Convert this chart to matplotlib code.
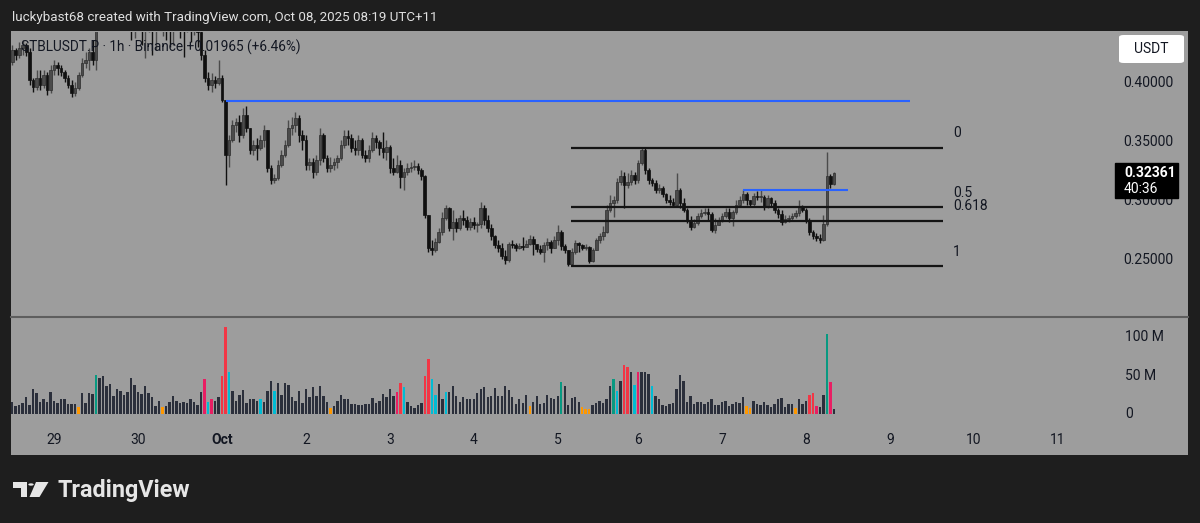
"""Recreate a TradingView STBLUSDT.P 1h screenshot (candles, fib levels, volume)."""

import os
import tempfile
from pathlib import Path

os.environ.setdefault("MPLCONFIGDIR", str(Path(tempfile.gettempdir()) / "matplotlib-cache"))

import matplotlib

matplotlib.use("Agg")
import matplotlib.pyplot as plt
import matplotlib.transforms as mtransforms
import numpy as np
from matplotlib.lines import Line2D
from matplotlib.patches import Circle, FancyBboxPatch, Polygon, Rectangle

W, H = 1200, 523

# hourly bars, index = hours since Oct 1 00:00 (UTC+11)
FIRST_HOUR = -59
FIRST_OPEN = 0.4178
CLOSE = [
    0.4280, 0.4237, 0.4297, 0.4322, 0.4263, 0.4025, 0.3966, 0.4042, 0.3983, 0.4068,
    0.3941, 0.4110, 0.4153, 0.4127, 0.4093, 0.4042, 0.3983, 0.3915, 0.3958, 0.4068,
    0.4169, 0.4195, 0.4263, 0.4195, 0.4491, 0.4576, 0.4661, 0.4703, 0.4635, 0.4678,
    0.4601, 0.4618, 0.4551, 0.4517, 0.4466, 0.4491, 0.4534, 0.4449, 0.4466, 0.4517,
    0.4449, 0.4491, 0.4534, 0.4551, 0.4500, 0.4449, 0.4491, 0.4534, 0.4483, 0.4466,
    0.4517, 0.4449, 0.4483, 0.4432, 0.4237, 0.4042, 0.3983, 0.4025, 0.4000, 0.4042,
    0.3856, 0.3390, 0.3517, 0.3644, 0.3670, 0.3560, 0.3729, 0.3619, 0.3433, 0.3475,
    0.3450, 0.3517, 0.3602, 0.3280, 0.3178, 0.3195, 0.3305, 0.3390, 0.3475, 0.3619,
    0.3644, 0.3704, 0.3560, 0.3517, 0.3305, 0.3331, 0.3246, 0.3348, 0.3560, 0.3365,
    0.3280, 0.3305, 0.3331, 0.3365, 0.3475, 0.3551, 0.3534, 0.3450, 0.3433, 0.3517,
    0.3390, 0.3365, 0.3433, 0.3534, 0.3500, 0.3450, 0.3416, 0.3458, 0.3280, 0.3246,
    0.3305, 0.3204, 0.3246, 0.3280, 0.3288, 0.3297, 0.3263, 0.3212, 0.2882, 0.2602,
    0.2586, 0.2653, 0.2738, 0.2857, 0.2941, 0.2772, 0.2823, 0.2772, 0.2857, 0.2840,
    0.2780, 0.2823, 0.2797, 0.2806, 0.2941, 0.2840, 0.2772, 0.2704, 0.2628, 0.2603,
    0.2535, 0.2501, 0.2636, 0.2628, 0.2603,
    0.2619, 0.2611, 0.2636, 0.2679,
    0.2636, 0.2594, 0.2569, 0.2628, 0.2653, 0.2603, 0.2670, 0.2738, 0.2619, 0.2586,
    0.2467, 0.2569, 0.2645, 0.2628, 0.2603, 0.2611, 0.2492, 0.2586, 0.2670, 0.2704,
    0.2738, 0.2924, 0.2984, 0.3009, 0.3161, 0.3212, 0.3136, 0.3161, 0.3221, 0.3178,
    0.3322, 0.3433, 0.3263, 0.3178, 0.3153, 0.3094, 0.3110, 0.3060, 0.3009, 0.2992,
    0.2967, 0.3094, 0.2984, 0.2924, 0.2840, 0.2780, 0.2814, 0.2874, 0.2899, 0.2907,
    0.2890, 0.2755, 0.2797, 0.2840, 0.2874, 0.2907, 0.2857, 0.2907, 0.2967, 0.3009,
    0.3060, 0.3009, 0.2975, 0.3043, 0.3034, 0.3034, 0.2958, 0.3026, 0.2984, 0.2924,
    0.2890, 0.2823, 0.2848, 0.2857, 0.2874, 0.2899, 0.2950, 0.2924, 0.2840, 0.2738,
    0.2704, 0.2687, 0.2670, 0.2806, 0.3212, 0.3144, 0.32361,
]
HIGH = [
    0.4322, 0.4297, 0.4347, 0.4364, 0.4339, 0.4297, 0.4042, 0.4110, 0.4110, 0.4110,
    0.4093, 0.4153, 0.4195, 0.4178, 0.4153, 0.4110, 0.4068, 0.4025, 0.4008, 0.4093,
    0.4212, 0.4263, 0.4297, 0.4364, 0.4618, 0.4703, 0.4788, 0.4872, 0.4830, 0.4788,
    0.4745, 0.4703, 0.4661, 0.4635, 0.4601, 0.4618, 0.4661, 0.4618, 0.4576, 0.4635,
    0.4576, 0.4601, 0.4618, 0.4661, 0.4618, 0.4576, 0.4601, 0.4635, 0.4601, 0.4576,
    0.4618, 0.4584, 0.4601, 0.4576, 0.4466, 0.4280, 0.4093, 0.4085, 0.4059, 0.4195,
    0.4068, 0.3856, 0.3560, 0.3687, 0.3704, 0.3729, 0.3788, 0.3805, 0.3619, 0.3517,
    0.3534, 0.3560, 0.3644, 0.3602, 0.3305, 0.3229, 0.3348, 0.3433, 0.3517, 0.3687,
    0.3712, 0.3754, 0.3729, 0.3602, 0.3560, 0.3365, 0.3365, 0.3390, 0.3619, 0.3576,
    0.3390, 0.3373, 0.3365, 0.3390, 0.3517, 0.3602, 0.3602, 0.3568, 0.3517, 0.3560,
    0.3534, 0.3433, 0.3475, 0.3585, 0.3560, 0.3517, 0.3585, 0.3517, 0.3475, 0.3365,
    0.3390, 0.3348, 0.3280, 0.3322, 0.3331, 0.3348, 0.3322, 0.3280, 0.3221, 0.2882,
    0.2670, 0.2687, 0.2772, 0.2907, 0.2967, 0.2950, 0.2924, 0.2857, 0.2882, 0.2924,
    0.2874, 0.2857, 0.2865, 0.2823, 0.2992, 0.2967, 0.2882, 0.2806, 0.2713, 0.2670,
    0.2645, 0.2586, 0.2653, 0.2670, 0.2645,
    0.2645, 0.2696, 0.2670, 0.2713,
    0.2704, 0.2636, 0.2628, 0.2653, 0.2687, 0.2670, 0.2704, 0.2797, 0.2755, 0.2636,
    0.2586, 0.2603, 0.2670, 0.2653, 0.2636, 0.2636, 0.2619, 0.2603, 0.2687, 0.2729,
    0.2789, 0.2967, 0.3051, 0.3043, 0.3195, 0.3263, 0.3246, 0.3238, 0.3263, 0.3246,
    0.3348, 0.3449, 0.3449, 0.3280, 0.3195, 0.3178, 0.3144, 0.3127, 0.3068, 0.3051,
    0.3026, 0.3238, 0.3110, 0.3026, 0.2941, 0.2874, 0.2848, 0.2899, 0.2933, 0.2941,
    0.2941, 0.2907, 0.2857, 0.2865, 0.2899, 0.2941, 0.2941, 0.2924, 0.3009, 0.3043,
    0.3094, 0.3077, 0.3009, 0.3068, 0.3085, 0.3094, 0.3051, 0.3051, 0.3034, 0.3009,
    0.2941, 0.2924, 0.2882, 0.2882, 0.2899, 0.2924, 0.3009, 0.2967, 0.2941, 0.2857,
    0.2755, 0.2729, 0.2721, 0.2882, 0.3416, 0.3229, 0.3246,
]
LOW = [
    0.4153, 0.4195, 0.4212, 0.4237, 0.4229, 0.3983, 0.3924, 0.3941, 0.3941, 0.3958,
    0.3898, 0.3915, 0.4068, 0.4068, 0.4059, 0.4008, 0.3958, 0.3881, 0.3890, 0.3941,
    0.4051, 0.4127, 0.4110, 0.4153, 0.4110, 0.4466, 0.4491, 0.4551, 0.4534, 0.4517,
    0.4491, 0.4500, 0.4474, 0.4449, 0.4364, 0.4381, 0.4449, 0.4322, 0.4212, 0.4432,
    0.4237, 0.4280, 0.4449, 0.4398, 0.4364, 0.4305, 0.4322, 0.4466, 0.4381, 0.4220,
    0.4432, 0.4347, 0.4407, 0.4305, 0.4195, 0.4008, 0.3941, 0.3924, 0.3958, 0.3983,
    0.3839, 0.3136, 0.3289, 0.3500, 0.3585, 0.3500, 0.3534, 0.3585, 0.3399, 0.3390,
    0.3348, 0.3433, 0.3458, 0.3246, 0.3144, 0.3153, 0.3178, 0.3289, 0.3373, 0.3458,
    0.3560, 0.3585, 0.3500, 0.3433, 0.3263, 0.3263, 0.3195, 0.3221, 0.3305, 0.3331,
    0.3246, 0.3246, 0.3263, 0.3280, 0.3348, 0.3449, 0.3475, 0.3416, 0.3390, 0.3390,
    0.3365, 0.3331, 0.3331, 0.3416, 0.3449, 0.3390, 0.3365, 0.3348, 0.3238, 0.3221,
    0.3238, 0.3110, 0.3094, 0.3221, 0.3246, 0.3263, 0.3229, 0.3178, 0.2857, 0.2569,
    0.2543, 0.2569, 0.2645, 0.2713, 0.2840, 0.2746, 0.2670, 0.2738, 0.2755, 0.2797,
    0.2755, 0.2755, 0.2763, 0.2738, 0.2772, 0.2797, 0.2738, 0.2670, 0.2603, 0.2569,
    0.2509, 0.2467, 0.2484, 0.2603, 0.2577,
    0.2594, 0.2586, 0.2611, 0.2628,
    0.2543, 0.2569, 0.2552, 0.2484, 0.2586, 0.2560, 0.2611, 0.2628, 0.2586, 0.2560,
    0.2449, 0.2458, 0.2552, 0.2569, 0.2586, 0.2586, 0.2475, 0.2484, 0.2586, 0.2645,
    0.2670, 0.2729, 0.2907, 0.2865, 0.2984, 0.3136, 0.2941, 0.3110, 0.3136, 0.3144,
    0.3153, 0.3305, 0.3229, 0.3144, 0.3127, 0.3068, 0.3068, 0.3034, 0.2984, 0.2967,
    0.2950, 0.2958, 0.2941, 0.2907, 0.2814, 0.2755, 0.2772, 0.2797, 0.2857, 0.2882,
    0.2840, 0.2738, 0.2729, 0.2797, 0.2823, 0.2857, 0.2823, 0.2789, 0.2890, 0.2950,
    0.2984, 0.2967, 0.2958, 0.2958, 0.3009, 0.2992, 0.2924, 0.2941, 0.2958, 0.2899,
    0.2857, 0.2797, 0.2814, 0.2823, 0.2840, 0.2857, 0.2874, 0.2907, 0.2814, 0.2713,
    0.2679, 0.2662, 0.2645, 0.2662, 0.2789, 0.3110, 0.3136,
]
# volume in millions
VOLUME_M = [
    16, 11, 12, 14, 22, 12, 32, 27, 16, 19, 16, 28, 17, 14, 20, 19, 13, 13, 13, 9,
    27, 14, 27, 26, 51, 47, 49, 37, 39, 24, 32, 30, 25, 29, 47, 38, 29, 26, 37, 27,
    22, 11, 17, 9, 11, 16, 24, 17, 14, 15, 14, 19, 16, 12, 29, 46, 16, 19, 17, 22,
    50, 113, 54, 30, 17, 25, 31, 14, 19, 20, 17, 20, 16, 30, 43, 30, 40, 25, 40, 38,
    22, 17, 30, 14, 32, 22, 35, 23, 37, 23, 16, 8, 11, 17, 25, 19, 19, 13, 13, 12,
    12, 13, 13, 21, 14, 17, 26, 22, 32, 23, 29, 40, 35, 16, 11, 8, 12,
    14, 50, 72, 46, 25, 39, 19, 28, 29, 37, 24, 15, 22, 19, 19, 19, 27, 32, 35, 22,
    24, 34, 23, 24, 37, 31, 22, 13, 19, 14, 25, 11, 16, 24, 13, 14, 25, 21, 19, 24,
    42, 36, 12, 21, 22, 16, 9, 6, 6, 12, 14, 17, 14, 19, 37, 46, 30, 43, 63, 61,
    55, 38, 55, 55, 55, 52, 37, 24, 19, 12, 11, 13, 14, 32, 51, 43, 16, 24, 13, 15,
    15, 13, 15, 19, 12, 12, 15, 17, 11, 13, 15, 14, 22, 10, 8, 17, 13, 12, 16, 12,
    9, 13, 19, 21, 9, 13, 13, 8, 19, 13, 17, 25, 27, 11, 9, 25, 104, 42, 6,
]
# n normal, r red, p pink, c cyan, g green, o orange
VOLUME_TONE = (
    "n" * 19 + "o" + "n" * 4 + "g" + "n" * 18 + "o" + "n" * 11 + "pcp" + "nn" + "rrc"
    + "n" * 8 + "c" + "n" * 3 + "c" + "n" * 15 + "o" + "n" * 18 + "prc" + "n" * 4
    + "n" + "rr" + "cc" + "nn" + "c" + "n" * 23 + "o" + "n" * 8 + "g" + "n" * 5 + "ooo"
    + "n" * 6 + "gc" + "n" + "rr" + "n" + "cp" + "nnn" + "c" + "n" * 26 + "oo"
    + "n" * 12 + "o" + "n" * 3 + "rrp" + "nn" + "gp" + "n"
)
TONE_COLORS = {
    "n": "#2b2f3b",
    "r": "#f23645",
    "p": "#e91e63",
    "c": "#00bcd4",
    "g": "#089981",
    "o": "#ff9800",
}

FIB_LEVELS = [0, 0.5, 0.618, 1]
FIB_LABELS = ["0", "0.5", "0.618", "1"]
FIB_HIGH = 0.3449
FIB_LOW = 0.2449
FIB_SPAN = (100.8, 207.2)
FIB_LABEL_HOUR = 210.0
BLUE_LINES = [(2.0, 197.7, 0.3848), (150.0, 180.0, 0.3090)]

PRICE_TICKS = [0.25, 0.30, 0.35, 0.40]
VOLUME_TICKS = [0, 50, 100]
VOLUME_TICK_LABELS = ["0", "50 M", "100 M"]
DATE_HOURS = [-47, -23, 1, 25, 49, 73, 97, 120, 144, 168, 192, 216, 240]
DATE_LABELS = ["29", "30", "Oct", "2", "3", "4", "5", "6", "7", "8", "9", "10", "11"]
LAST_PRICE = 0.32361
COUNTDOWN = "40:36"

HEADER = "luckybast68 created with TradingView.com, Oct 08, 2025 08:19 UTC+11"
LEGEND = "STBLUSDT.P · 1h · Binance +0.01965 (+6.46%)"

# screen layout (pixels)
PANE_LEFT, PANE_RIGHT = 11, 1188
PRICE_TOP, PRICE_BOTTOM = 32, 315
VOL_TOP, VOL_BOTTOM = 318, 428
XLIM = (-59.34, 277.24)
PRICE_LIM = (0.2035, 0.4432)
VOL_LIM = (-18.2, 124.7)

BG_DARK = "#1e1e1e"
PANE_GRAY = "#9d9d9d"
TEXT_DARK = "#131722"
LABEL_SIZE = 10


def fx(px):
    return px / W


def fy(py):
    return 1 - py / H


def pane_axes(fig, top, bottom):
    ax = fig.add_axes([fx(PANE_LEFT), fy(bottom), (PANE_RIGHT - PANE_LEFT) / W, (bottom - top) / H])
    ax.set_facecolor("none")
    for spine in ax.spines.values():
        spine.set_visible(False)
    ax.set_xticks([])
    ax.set_yticks([])
    ax.set_xlim(*XLIM)
    return ax


def draw_candles(ax):
    hours = np.arange(FIRST_HOUR, FIRST_HOUR + len(CLOSE))
    close = np.array(CLOSE)
    opens = np.concatenate([[FIRST_OPEN], close[:-1]])
    high = np.maximum(np.array(HIGH), np.maximum(opens, close))
    low = np.minimum(np.array(LOW), np.minimum(opens, close))
    up = close >= opens
    colors = np.where(up, "#4b4b4b", "#101010")

    ax.vlines(hours, low, high, colors=colors, linewidth=1.0, zorder=2)
    bottoms = np.minimum(opens, close)
    heights = np.maximum(np.abs(close - opens), 0.0006)
    ax.bar(hours, heights, bottom=bottoms, width=0.76, color=colors,
           edgecolor=np.where(up, "#2e2e2e", "#101010"), linewidth=0.5, zorder=3)


def draw_levels(ax):
    for start, end, price in BLUE_LINES:
        ax.plot([start, end], [price, price], color="#2962ff", linewidth=1.5, zorder=4,
                solid_capstyle="butt")
    for level, label in zip(FIB_LEVELS, FIB_LABELS):
        price = FIB_HIGH - level * (FIB_HIGH - FIB_LOW)
        ax.plot(FIB_SPAN, [price, price], color="#141414", linewidth=1.6, zorder=4,
                solid_capstyle="butt")
        ax.annotate(label, (FIB_LABEL_HOUR, price), xytext=(0, 10.5), textcoords="offset points",
                    va="center", ha="left", fontsize=LABEL_SIZE, color=TEXT_DARK)


def draw_price_scale(fig, ax):
    trans = mtransforms.blended_transform_factory(fig.transFigure, ax.transData)
    for tick in PRICE_TICKS:
        ax.text(fx(1173), tick, f"{tick:.5f}", transform=trans, ha="right", va="center",
                fontsize=LABEL_SIZE, color=TEXT_DARK)

    per_px = (PRICE_LIM[1] - PRICE_LIM[0]) / (PRICE_BOTTOM - PRICE_TOP)
    box = Rectangle((fx(1115), LAST_PRICE - 25 * per_px), 63 / W, 35 * per_px,
                    transform=trans, facecolor="#000000", edgecolor="#000000", zorder=6,
                    clip_on=False)
    ax.add_patch(box)
    ax.text(fx(1124), LAST_PRICE, f"{LAST_PRICE:.5f}", transform=trans, ha="left", va="center",
            fontsize=LABEL_SIZE, color="white", fontweight="bold", zorder=7)
    ax.text(fx(1124), LAST_PRICE - 16 * per_px, COUNTDOWN, transform=trans, ha="left",
            va="center", fontsize=LABEL_SIZE, color="white", zorder=7)


def draw_volume(fig, ax):
    hours = np.arange(FIRST_HOUR, FIRST_HOUR + len(VOLUME_M))
    colors = [TONE_COLORS[t] for t in VOLUME_TONE]
    ax.bar(hours, VOLUME_M, width=0.68, color=colors, zorder=2)
    ax.set_ylim(*VOL_LIM)

    trans = mtransforms.blended_transform_factory(fig.transFigure, ax.transData)
    for tick, label in zip(VOLUME_TICKS, VOLUME_TICK_LABELS):
        ax.text(fx(1125), tick, label, transform=trans, ha="left", va="center",
                fontsize=LABEL_SIZE, color=TEXT_DARK)

    xtrans = ax.get_xaxis_transform()
    date_y = -(440 - VOL_BOTTOM) / (VOL_BOTTOM - VOL_TOP)
    for hour, label in zip(DATE_HOURS, DATE_LABELS):
        ax.text(hour, date_y, label, transform=xtrans, ha="center", va="center",
                fontsize=LABEL_SIZE, color=TEXT_DARK, clip_on=False,
                fontweight="bold" if label == "Oct" else "normal")


def draw_chrome(fig):
    fig.add_artist(Rectangle((fx(PANE_LEFT), fy(455)), (PANE_RIGHT - PANE_LEFT) / W,
                             (455 - 31) / H, transform=fig.transFigure,
                             facecolor=PANE_GRAY, edgecolor="none", zorder=-10))
    fig.add_artist(Line2D([fx(PANE_LEFT), fx(PANE_RIGHT)], [fy(316.5), fy(316.5)],
                          transform=fig.transFigure, color="#5e5e5e", linewidth=1.5, zorder=1))

    fig.text(fx(12), fy(17), HEADER, color="#e0e0e0", fontsize=9.6, ha="left", va="center")
    fig.text(fx(21), fy(47), LEGEND, color=TEXT_DARK, fontsize=9.8, ha="left", va="center",
             zorder=8)

    usdt = FancyBboxPatch((fx(1119), fy(63)), 65 / W, 28 / H, transform=fig.transFigure,
                          boxstyle="round,pad=0,rounding_size=0.004", facecolor="white",
                          edgecolor="none", zorder=8)
    fig.add_artist(usdt)
    fig.text(fx(1151), fy(49), "USDT", color=TEXT_DARK, fontsize=LABEL_SIZE, ha="center",
             va="center", zorder=9)

    # TradingView logo mark
    logo = "#e6e6e6"
    fig.add_artist(Polygon([(fx(13), fy(482)), (fx(27), fy(482)), (fx(27), fy(497)),
                            (fx(21), fy(497)), (fx(21), fy(487.5)), (fx(13), fy(487.5))],
                           closed=True, transform=fig.transFigure, facecolor=logo,
                           edgecolor="none"))
    fig.add_artist(Circle((fx(31), fy(484.5)), 2.7 / W, transform=fig.transFigure,
                          facecolor=logo, edgecolor="none"))
    fig.add_artist(Polygon([(fx(36), fy(482)), (fx(48.5), fy(482)), (fx(39.5), fy(497)),
                            (fx(29.5), fy(497))], closed=True, transform=fig.transFigure,
                           facecolor=logo, edgecolor="none"))
    fig.text(fx(57), fy(497), "TradingView", color=logo, fontsize=16.8, fontweight="bold",
             ha="left", va="baseline")


def main():
    assert len(CLOSE) == len(HIGH) == len(LOW) == len(VOLUME_M) == len(VOLUME_TONE)
    plt.rcParams["font.family"] = ["Roboto", "DejaVu Sans"]

    fig = plt.figure(figsize=(W / 100, H / 100), dpi=100, facecolor=BG_DARK)
    draw_chrome(fig)

    ax_price = pane_axes(fig, PRICE_TOP, PRICE_BOTTOM)
    ax_price.set_ylim(*PRICE_LIM)
    draw_candles(ax_price)
    draw_levels(ax_price)
    draw_price_scale(fig, ax_price)

    ax_vol = pane_axes(fig, VOL_TOP, VOL_BOTTOM)
    draw_volume(fig, ax_vol)

    fig.savefig("out.png", dpi=100, facecolor=BG_DARK)
    plt.close(fig)


if __name__ == "__main__":
    main()
